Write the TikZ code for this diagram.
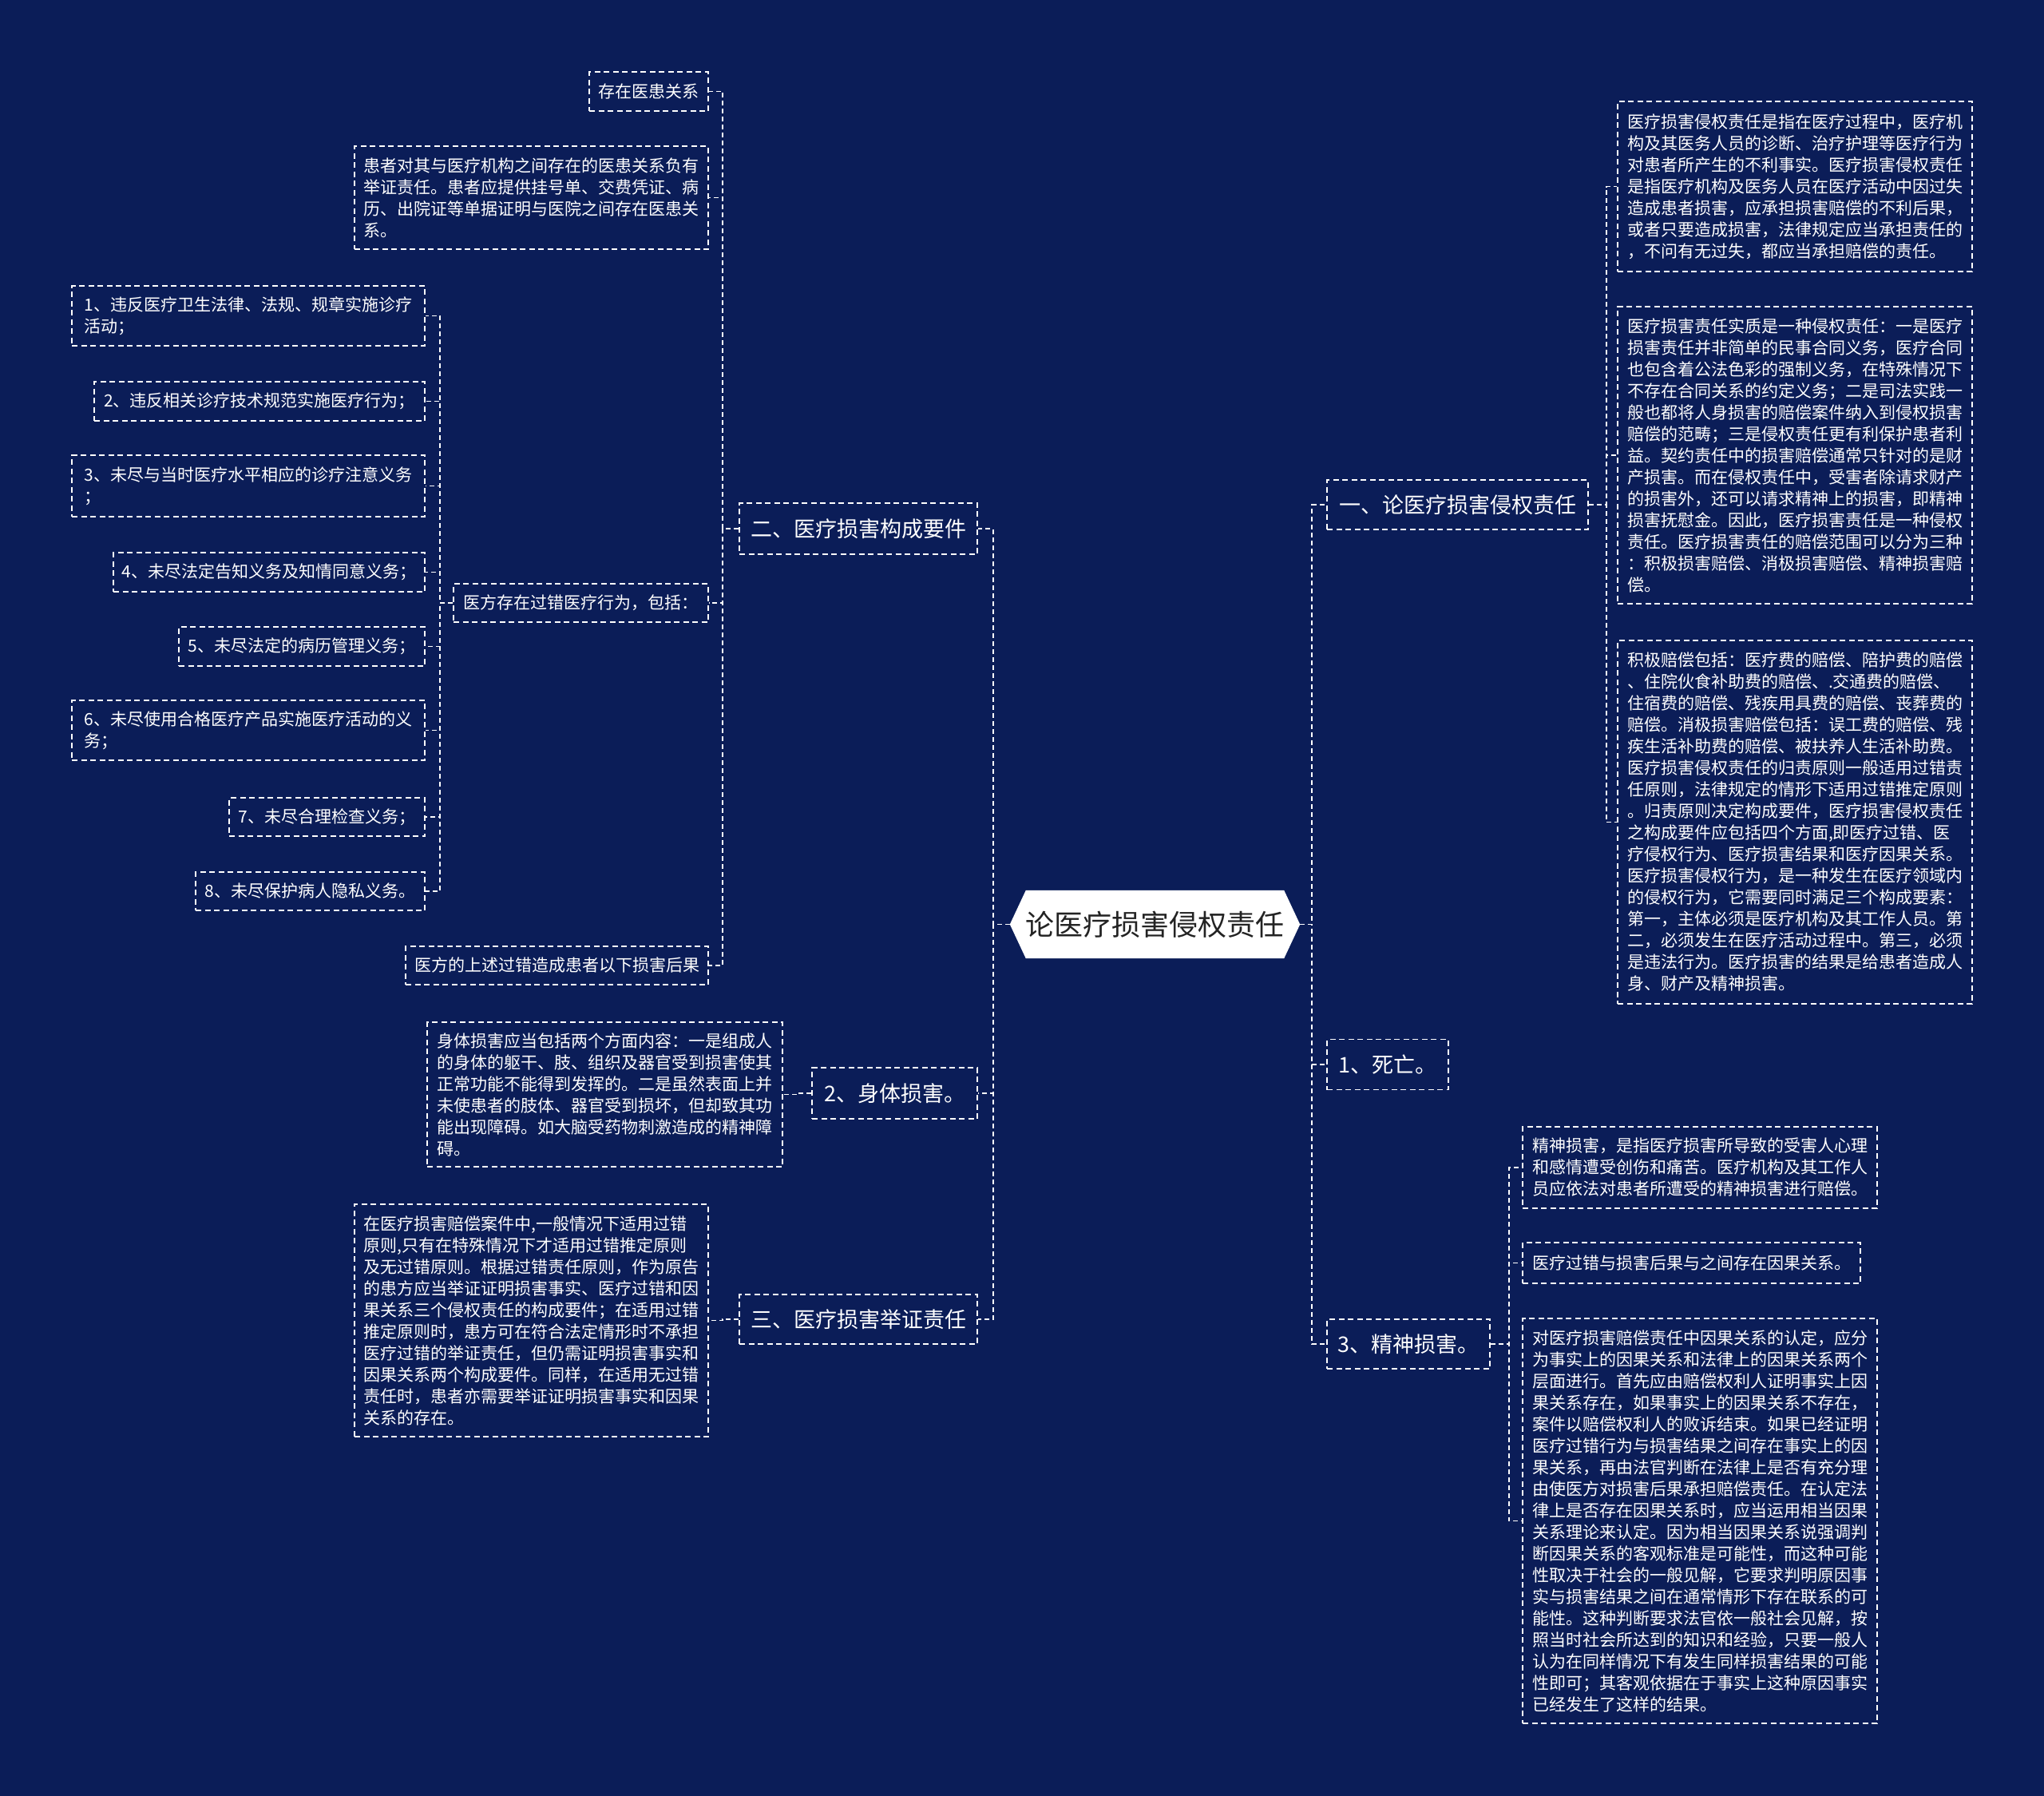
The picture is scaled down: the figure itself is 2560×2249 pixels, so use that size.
\documentclass[tikz,border=0pt]{standalone}
\usepackage{fontspec}
\newfontfamily\cjk{Noto Sans CJK SC}
\usetikzlibrary{backgrounds}
\definecolor{bgnavy}{RGB}{11,29,88}
\definecolor{roottext}{RGB}{35,35,35}
\tikzset{
  box/.style={draw=white, line width=1.6pt, dash pattern=on 7pt off 4.5pt, text=white,
    font=\cjk\fontsize{21}{27}\selectfont, align=left, inner sep=0pt},
  branch/.style={draw=white, line width=1.6pt, dash pattern=on 7pt off 4.5pt, text=white,
    font=\cjk\fontsize{27}{32}\selectfont, inner sep=0pt},
  rootbox/.style={draw=none, text=roottext, font=\cjk\fontsize{36}{40}\selectfont, inner sep=0pt},
  conn/.style={draw=white, line width=1.6pt, dash pattern=on 6pt off 4pt}
}
\begin{document}
\begin{tikzpicture}[x=1pt,y=-1pt]
\useasboundingbox (0,0) rectangle (2560,2249);

% root
\node[rootbox, minimum width=363, minimum height=85] (root) at (1446.5,1157.5) {论医疗损害侵权责任};

% right branches
\node[branch, minimum width=327, minimum height=62] (one) at (1825.5,632) {一、论医疗损害侵权责任};
\node[branch, minimum width=152, minimum height=63] (die) at (1738,1333) {1、死亡。};
\node[branch, minimum width=204, minimum height=62] (mental) at (1764,1683) {3、精神损害。};

\node[box, minimum width=444, minimum height=213] (A) at (2248,233.5) {医疗损害侵权责任是指在医疗过程中，医疗机\\构及其医务人员的诊断、治疗护理等医疗行为\\对患者所产生的不利事实。医疗损害侵权责任\\是指医疗机构及医务人员在医疗活动中因过失\\造成患者损害，应承担损害赔偿的不利后果，\\或者只要造成损害，法律规定应当承担责任的\\，不问有无过失，都应当承担赔偿的责任。};
\node[box, minimum width=444, minimum height=372] (B) at (2248,570) {医疗损害责任实质是一种侵权责任：一是医疗\\损害责任并非简单的民事合同义务，医疗合同\\也包含着公法色彩的强制义务，在特殊情况下\\不存在合同关系的约定义务；二是司法实践一\\般也都将人身损害的赔偿案件纳入到侵权损害\\赔偿的范畴；三是侵权责任更有利保护患者利\\益。契约责任中的损害赔偿通常只针对的是财\\产损害。而在侵权责任中，受害者除请求财产\\的损害外，还可以请求精神上的损害，即精神\\损害抚慰金。因此，医疗损害责任是一种侵权\\责任。医疗损害责任的赔偿范围可以分为三种\\：积极损害赔偿、消极损害赔偿、精神损害赔\\偿。};
\node[box, minimum width=444, minimum height=455] (C) at (2248,1029.5) {积极赔偿包括：医疗费的赔偿、陪护费的赔偿\\、住院伙食补助费的赔偿、.交通费的赔偿、\\住宿费的赔偿、残疾用具费的赔偿、丧葬费的\\赔偿。消极损害赔偿包括：误工费的赔偿、残\\疾生活补助费的赔偿、被扶养人生活补助费。\\医疗损害侵权责任的归责原则一般适用过错责\\任原则，法律规定的情形下适用过错推定原则\\。归责原则决定构成要件，医疗损害侵权责任\\之构成要件应包括四个方面,即医疗过错、医\\疗侵权行为、医疗损害结果和医疗因果关系。\\医疗损害侵权行为，是一种发生在医疗领域内\\的侵权行为，它需要同时满足三个构成要素：\\第一，主体必须是医疗机构及其工作人员。第\\二，必须发生在医疗活动过程中。第三，必须\\是违法行为。医疗损害的结果是给患者造成人\\身、财产及精神损害。};

\node[box, minimum width=444, minimum height=102] (D) at (2129,1462) {精神损害，是指医疗损害所导致的受害人心理\\和感情遭受创伤和痛苦。医疗机构及其工作人\\员应依法对患者所遭受的精神损害进行赔偿。};
\node[box, minimum width=423, minimum height=51] (E) at (2118.5,1581.5) {医疗过错与损害后果与之间存在因果关系。};
\node[box, minimum width=444, minimum height=507] (F) at (2129,1904.5) {对医疗损害赔偿责任中因果关系的认定，应分\\为事实上的因果关系和法律上的因果关系两个\\层面进行。首先应由赔偿权利人证明事实上因\\果关系存在，如果事实上的因果关系不存在，\\案件以赔偿权利人的败诉结束。如果已经证明\\医疗过错行为与损害结果之间存在事实上的因\\果关系，再由法官判断在法律上是否有充分理\\由使医方对损害后果承担赔偿责任。在认定法\\律上是否存在因果关系时，应当运用相当因果\\关系理论来认定。因为相当因果关系说强调判\\断因果关系的客观标准是可能性，而这种可能\\性取决于社会的一般见解，它要求判明原因事\\实与损害结果之间在通常情形下存在联系的可\\能性。这种判断要求法官依一般社会见解，按\\照当时社会所达到的知识和经验，只要一般人\\认为在同样情况下有发生同样损害结果的可能\\性即可；其客观依据在于事实上这种原因事实\\已经发生了这样的结果。};

% left branches
\node[branch, minimum width=298, minimum height=64] (two) at (1075,662) {二、医疗损害构成要件};
\node[branch, minimum width=207, minimum height=64] (body) at (1120.5,1369) {2、身体损害。};
\node[branch, minimum width=298, minimum height=62] (three) at (1075,1652) {三、医疗损害举证责任};

\node[box, minimum width=149, minimum height=49] (rel) at (812.5,114.5) {存在医患关系};
\node[box, minimum width=443, minimum height=129] (relL) at (665.5,247.5) {患者对其与医疗机构之间存在的医患关系负有\\举证责任。患者应提供挂号单、交费凭证、病\\历、出院证等单据证明与医院之间存在医患关\\系。};
\node[box, minimum width=319, minimum height=48] (fault) at (727.5,755) {医方存在过错医疗行为，包括：};
\node[box, minimum width=379, minimum height=48] (harm) at (697.5,1209) {医方的上述过错造成患者以下损害后果};

\node[box, minimum width=442, minimum height=75] (i1) at (311,395.5) {1、违反医疗卫生法律、法规、规章实施诊疗\\活动；};
\node[box, minimum width=414, minimum height=49] (i2) at (325,502.5) {2、违反相关诊疗技术规范实施医疗行为；};
\node[box, minimum width=442, minimum height=77] (i3) at (311,608.5) {3、未尽与当时医疗水平相应的诊疗注意义务\\；};
\node[box, minimum width=390, minimum height=49] (i4) at (337,716.5) {4、未尽法定告知义务及知情同意义务；};
\node[box, minimum width=308, minimum height=49] (i5) at (378,809.5) {5、未尽法定的病历管理义务；};
\node[box, minimum width=442, minimum height=75] (i6) at (311,914.5) {6、未尽使用合格医疗产品实施医疗活动的义\\务；};
\node[box, minimum width=245, minimum height=48] (i7) at (409.5,1023) {7、未尽合理检查义务；};
\node[box, minimum width=287, minimum height=48] (i8) at (388.5,1116) {8、未尽保护病人隐私义务。};

\node[box, minimum width=445, minimum height=181] (bodyL) at (757.5,1370.5) {身体损害应当包括两个方面内容：一是组成人\\的身体的躯干、肢、组织及器官受到损害使其\\正常功能不能得到发挥的。二是虽然表面上并\\未使患者的肢体、器官受到损坏，但却致其功\\能出现障碍。如大脑受药物刺激造成的精神障\\碍。};
\node[box, minimum width=443, minimum height=291] (threeL) at (665.5,1653.5) {在医疗损害赔偿案件中,一般情况下适用过错\\原则,只有在特殊情况下才适用过错推定原则\\及无过错原则。根据过错责任原则，作为原告\\的患方应当举证证明损害事实、医疗过错和因\\果关系三个侵权责任的构成要件；在适用过错\\推定原则时，患方可在符合法定情形时不承担\\医疗过错的举证责任，但仍需证明损害事实和\\因果关系两个构成要件。同样，在适用无过错\\责任时，患者亦需要举证证明损害事实和因果\\关系的存在。};

% connectors right
\foreach \c in {one,die,mental} \draw[conn] (root.east) -- ++(15,0) |- (\c.west);
\foreach \c in {A,B,C} \draw[conn] (one.east) -- ++(22,0) |- (\c.west);
\foreach \c in {D,E,F} \draw[conn] (mental.east) -- ++(23,0) |- (\c.west);
% connectors left
\foreach \c in {two,body,three} \draw[conn] (root.west) -- ++(-21,0) |- (\c.east);
\foreach \c in {rel,relL,fault,harm} \draw[conn] (two.west) -- ++(-20,0) |- (\c.east);
\foreach \c in {i1,i2,i3,i4,i5,i6,i7,i8} \draw[conn] (fault.west) -- ++(-16,0) |- (\c.east);
\draw[conn] (body.west) -- ++(-18,0) |- (bodyL.east);
\draw[conn] (three.west) -- ++(-20,0) |- (threeL.east);

\begin{scope}[on background layer]
\fill[bgnavy] (0,0) rectangle (2560,2249);
\fill[white] (root.west) -- ([xshift=20pt]root.north west) -- ([xshift=-20pt]root.north east) -- (root.east) -- ([xshift=-20pt]root.south east) -- ([xshift=20pt]root.south west) -- cycle;
\end{scope}
\end{tikzpicture}
\end{document}
